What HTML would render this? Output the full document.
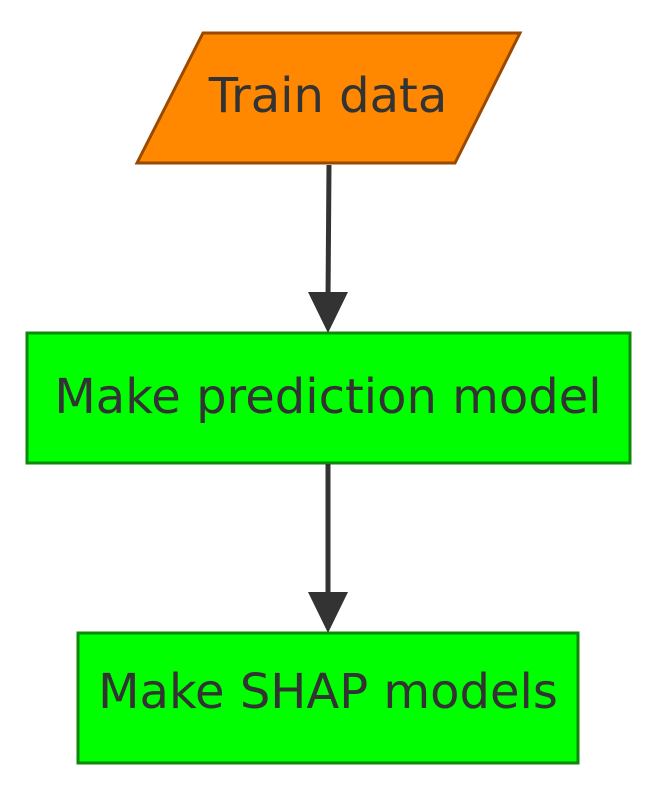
<!DOCTYPE html>
<html><head><style>
html,body{margin:0;padding:0;background:#fff;}
svg{display:block;}
text{font-family:"DejaVu Sans","Liberation Sans",sans-serif;font-size:48px;fill:#333;}
</style></head><body>
<svg width="657" height="797" viewBox="0 0 657 797" xmlns="http://www.w3.org/2000/svg">
<polygon points="203,33 520,33 455,163 137,163" fill="#ff8800" stroke="#9a4a00" stroke-width="3"/>
<text x="328" y="112" text-anchor="middle">Train data</text>
<path d="M329,165 L328,300" stroke="#333" stroke-width="5" fill="none"/>
<polygon points="308,292 348,292 328,333" fill="#333"/>
<rect x="27" y="333" width="603" height="130" fill="#00ff00" stroke="#0b8a0b" stroke-width="3"/>
<text x="328" y="413" text-anchor="middle">Make prediction model</text>
<path d="M328,464 L328,600" stroke="#333" stroke-width="5" fill="none"/>
<polygon points="308,592 348,592 328,633" fill="#333"/>
<rect x="78" y="633" width="500" height="130" fill="#00ff00" stroke="#0b8a0b" stroke-width="3"/>
<text x="328" y="708" text-anchor="middle">Make SHAP models</text>
</svg>
</body></html>
